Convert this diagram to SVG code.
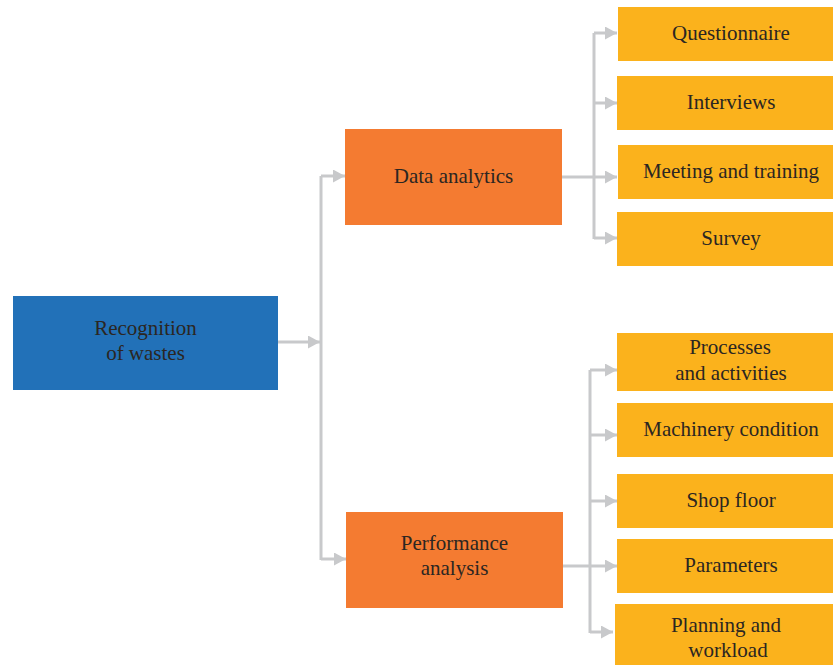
<svg xmlns="http://www.w3.org/2000/svg" width="833" height="665" viewBox="0 0 833 665">
<defs>
<style>
.blue{fill:#2271b8}
.orange{fill:#f47b31}
.yellow{fill:#fbb21c}
text{font-family:"Liberation Serif","Times New Roman",serif;font-size:21px;fill:#2b2622;text-anchor:middle}
.c{fill:none;stroke:#c8c9cb;stroke-width:3}
.a{marker-end:url(#ah)}
</style>
<marker id="ah" markerUnits="userSpaceOnUse" markerWidth="13" markerHeight="13" refX="12" refY="6.5" orient="auto">
<path d="M0,0 L12,6.5 L0,13 z" fill="#c8c9cb"/>
</marker>
</defs>
<rect width="833" height="665" fill="#ffffff"/>
<g id="connectors">
<path class="c a" d="M278,342 H320"/>
<path class="c" d="M321,176 V560"/>
<path class="c a" d="M321,176 H345"/>
<path class="c a" d="M321,559 H346"/>
<path class="c a" d="M562,177 H617"/>
<path class="c" d="M594,33 V239"/>
<path class="c a" d="M594,33 H617"/>
<path class="c a" d="M594,103 H617"/>
<path class="c a" d="M594,238 H617"/>
<path class="c a" d="M563,566 H617"/>
<path class="c" d="M590,370 V633"/>
<path class="c a" d="M590,370 H617"/>
<path class="c a" d="M590,435 H617"/>
<path class="c a" d="M590,501 H617"/>
<path class="c a" d="M590,632 H613"/>
</g>
<g id="recognition">
<rect class="blue" x="13" y="296" width="265" height="94"/>
<text x="145.5" y="335">Recognition</text>
<text x="145.5" y="360">of wastes</text>
</g>
<g id="data-analytics">
<rect class="orange" x="345" y="129" width="217" height="96"/>
<text x="453.5" y="183">Data analytics</text>
</g>
<g id="performance-analysis">
<rect class="orange" x="346" y="512" width="217" height="96"/>
<text x="454.5" y="550">Performance</text>
<text x="454.5" y="575">analysis</text>
</g>
<g id="questionnaire">
<rect class="yellow" x="618" y="7" width="215" height="54"/>
<text x="731" y="40">Questionnaire</text>
</g>
<g id="interviews">
<rect class="yellow" x="617" y="76" width="216" height="54"/>
<text x="731" y="109">Interviews</text>
</g>
<g id="meeting">
<rect class="yellow" x="618" y="145" width="215" height="54"/>
<text x="731" y="178">Meeting and training</text>
</g>
<g id="survey">
<rect class="yellow" x="617" y="212" width="216" height="54"/>
<text x="731" y="245">Survey</text>
</g>
<g id="processes">
<rect class="yellow" x="617" y="333" width="216" height="58"/>
<text x="730" y="354">Processes</text>
<text x="731" y="380">and activities</text>
</g>
<g id="machinery">
<rect class="yellow" x="617" y="403" width="216" height="54"/>
<text x="731" y="436">Machinery condition</text>
</g>
<g id="shop-floor">
<rect class="yellow" x="617" y="474" width="216" height="54"/>
<text x="731" y="507">Shop floor</text>
</g>
<g id="parameters">
<rect class="yellow" x="617" y="539" width="216" height="54"/>
<text x="731" y="572">Parameters</text>
</g>
<g id="planning">
<rect class="yellow" x="615" y="604" width="218" height="61"/>
<text x="726" y="632">Planning and</text>
<text x="728" y="657">workload</text>
</g>
</svg>
